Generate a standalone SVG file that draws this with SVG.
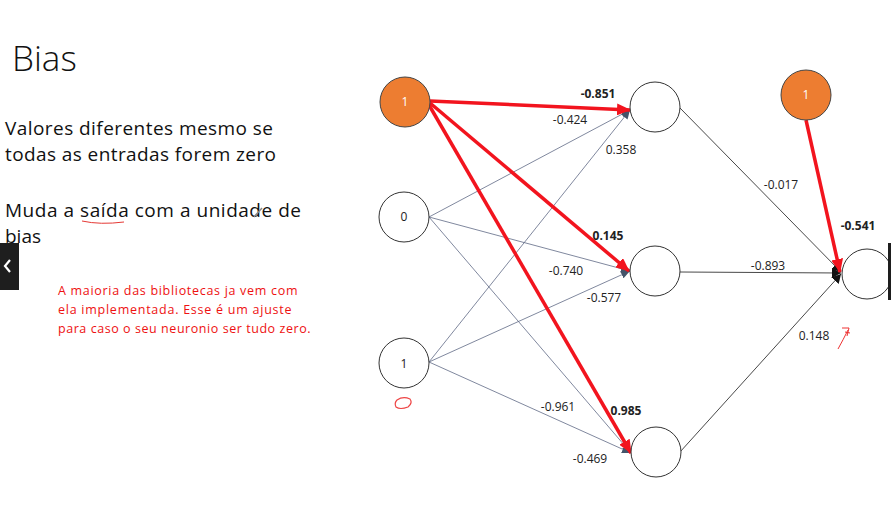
<svg xmlns="http://www.w3.org/2000/svg" width="891" height="507" viewBox="0 0 891 507">
<style>
.w{font-family:"Open Sans","Liberation Sans",sans-serif;font-size:12px;fill:#222;}
.b{font-weight:bold;}
.node{fill:#fff;stroke:#333;stroke-width:1;}
.bias{fill:#ED7D31;stroke:#444;stroke-width:1;}
.gl{stroke:#5F6A85;stroke-width:0.8;fill:none;}
.kl{stroke:#333;stroke-width:0.9;fill:none;}
.rl{stroke:#F2141E;stroke-width:3.5;fill:none;}
.body{font-family:"Open Sans","Liberation Sans",sans-serif;font-size:19px;fill:#111;}
.note{font-family:"Open Sans","Liberation Sans",sans-serif;font-size:12.5px;fill:#EE1111;letter-spacing:0.5px;}
</style>
<defs>
<marker id="ar" markerUnits="userSpaceOnUse" markerWidth="14" markerHeight="12" refX="13" refY="6" orient="auto"><path d="M0,0 L14,6 L0,12 z" fill="#F2141E"/></marker>
<marker id="ag" markerUnits="userSpaceOnUse" markerWidth="9" markerHeight="8" refX="9" refY="4" orient="auto"><path d="M0,0 L9,4 L0,8 z" fill="#44546A"/></marker>
<marker id="ak" markerUnits="userSpaceOnUse" markerWidth="9" markerHeight="10" refX="9" refY="5" orient="auto"><path d="M0,0 L9,5 L0,10 z" fill="#111"/></marker>
</defs>
<rect width="891" height="507" fill="#fff"/>

<g id="text-left">
<text x="12" y="71" font-family="Open Sans,Liberation Sans,sans-serif" font-size="35" font-weight="300" fill="#111">Bias</text>
<text class="body" x="5" y="135" textLength="268">Valores diferentes mesmo se</text>
<text class="body" x="5" y="161" textLength="271">todas as entradas forem zero</text>
<text class="body" x="5" y="217" textLength="296">Muda a saída com a unidade de</text>
<text class="body" x="5" y="243">bias</text>
<path d="M82,221 Q100,225 124,222" stroke="#E53935" stroke-width="1" fill="none"/>
<path d="M254,217 L262,208" stroke="#888" stroke-width="1.5" fill="none"/>
<text class="note" x="58" y="295" textLength="240">A maioria das bibliotecas ja vem com</text>
<text class="note" x="58" y="314" textLength="234">ela implementada. Esse é um ajuste</text>
<text class="note" x="58" y="333" textLength="253">para caso o seu neuronio ser tudo zero.</text>
</g>
<g id="tab">
<rect x="0" y="243" width="19" height="47" fill="#1E1E1E"/>
<path d="M10,260 L5,266 L10,272" stroke="#fff" stroke-width="2.2" fill="none"/>
</g>

<g id="connectors">
<line class="gl" x1="429" y1="217" x2="630" y2="110" marker-end="url(#ag)"/>
<line class="gl" x1="429" y1="217" x2="630" y2="271" marker-end="url(#ag)"/>
<line class="gl" x1="429" y1="217" x2="631" y2="453" marker-end="url(#ag)"/>
<line class="gl" x1="429" y1="362" x2="630" y2="110" marker-end="url(#ag)"/>
<line class="gl" x1="429" y1="362" x2="630" y2="271" marker-end="url(#ag)"/>
<line class="gl" x1="429" y1="362" x2="631" y2="453" marker-end="url(#ag)"/>
<line class="rl" x1="430" y1="101" x2="630" y2="110" marker-end="url(#ar)"/>
<line class="rl" x1="430" y1="103" x2="629" y2="271" marker-end="url(#ar)"/>
<line class="rl" x1="429" y1="105" x2="631" y2="453" marker-end="url(#ar)"/>
<line class="kl" x1="680" y1="108" x2="841" y2="272" marker-end="url(#ak)"/>
<line class="kl" x1="680" y1="272" x2="841" y2="273" marker-end="url(#ak)"/>
<line class="kl" x1="680" y1="452" x2="841" y2="274" marker-end="url(#ak)"/>
<line class="rl" x1="806" y1="120" x2="840" y2="272" marker-end="url(#ar)"/>
</g>

<g id="labels">
<text class="w b" x="598" y="98" text-anchor="middle">-0.851</text>
<text class="w" x="570" y="124" text-anchor="middle">-0.424</text>
<text class="w" x="621" y="154" text-anchor="middle">0.358</text>
<text class="w b" x="608" y="240" text-anchor="middle">0.145</text>
<text class="w" x="566" y="275" text-anchor="middle">-0.740</text>
<text class="w" x="604" y="302" text-anchor="middle">-0.577</text>
<text class="w" x="558" y="411" text-anchor="middle">-0.961</text>
<text class="w b" x="626" y="415" text-anchor="middle">0.985</text>
<text class="w" x="590" y="463" text-anchor="middle">-0.469</text>
<text class="w" x="781" y="189" text-anchor="middle">-0.017</text>
<text class="w" x="768" y="270" text-anchor="middle">-0.893</text>
<text class="w" x="814" y="340" text-anchor="middle">0.148</text>
<text class="w b" x="858" y="230" text-anchor="middle">-0.541</text>
</g>

<g id="bias1"><circle class="bias" cx="405" cy="102" r="25"/><text class="w" x="405" y="106" text-anchor="middle" fill="#fff" style="fill:#fff">1</text></g>
<g id="input0"><circle class="node" cx="404" cy="217" r="25"/><text class="w" x="404" y="221" text-anchor="middle">0</text></g>
<g id="input1"><circle class="node" cx="404" cy="363" r="25"/><text class="w" x="404" y="368" text-anchor="middle">1</text></g>
<g id="hidden1"><circle class="node" cx="655" cy="107" r="25"/></g>
<g id="hidden2"><circle class="node" cx="655" cy="271" r="25"/></g>
<g id="hidden3"><circle class="node" cx="656" cy="452" r="25"/></g>
<g id="bias2"><circle class="bias" cx="806" cy="95" r="25"/><text class="w" x="806" y="99" text-anchor="middle" style="fill:#fff">1</text></g>
<g id="output"><circle class="node" cx="867" cy="274" r="25"/></g>
<rect x="888" y="243" width="3" height="57" fill="#1E1E1E"/>

<g id="annotations">
<path d="M397,400 Q403,396 410,399 Q413,403 408,407 Q400,410 396,407 Q394,403 397,400 z" stroke="#EE4444" stroke-width="1.2" fill="none"/>
<path d="M838,349 Q843,340 848,330 M842,328 L849,328 L847,336 M845,332 L850,333" stroke="#EE3333" stroke-width="1" fill="none"/>
</g>
</svg>
